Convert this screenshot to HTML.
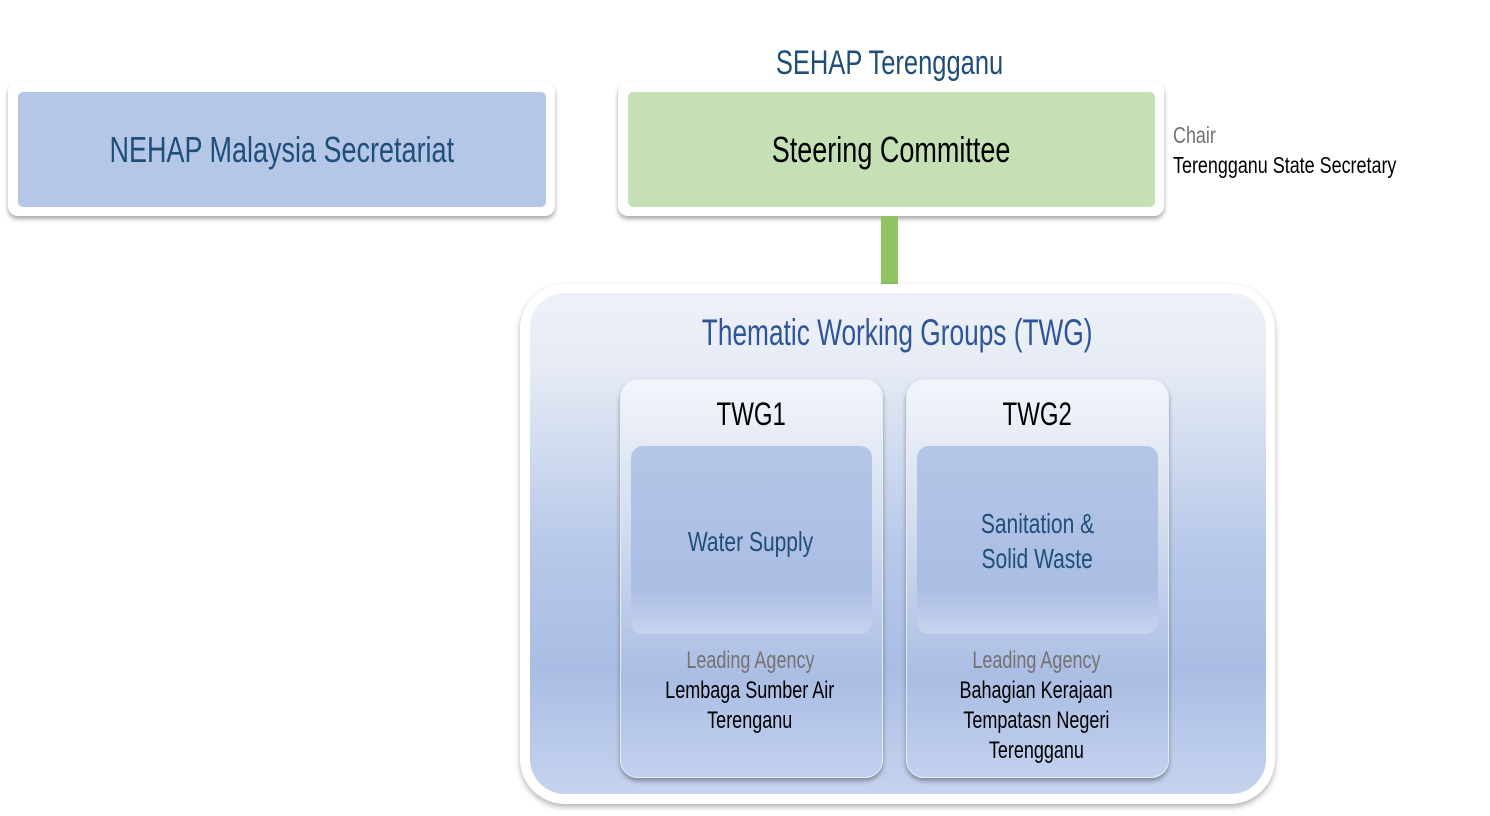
<!DOCTYPE html>
<html><head><meta charset="utf-8"><style>
body{margin:0;width:1490px;height:816px;background:#fff;position:relative;overflow:hidden;font-family:"Liberation Sans",sans-serif}
.a{position:absolute}
.t{position:absolute;width:1000px;text-align:center;white-space:nowrap;line-height:1}
.t span{display:inline-block;transform:scaleX(.75);transform-origin:center}
.l{position:absolute;white-space:nowrap;line-height:1}
.l span{display:inline-block;transform:scaleX(.78);transform-origin:left}
.outer{background:#fff;border-radius:10px;box-shadow:0 3px 5px rgba(0,0,0,.35)}
.card{border-radius:18px;background:linear-gradient(#f3f5fb 0%,#d4deef 35%,#aabde4 75%,#c3d1ee 100%);box-shadow:0 3px 5px rgba(0,0,0,.35);border:1px solid #e6ebf5;box-sizing:border-box}
.inner{border-radius:12px;background:linear-gradient(#b4c6e7 0%,#aabde3 75%,#c8d4ee 100%)}
</style></head><body>
<div class="a outer" style="left:8px;top:82px;width:547px;height:134px"></div>
<div class="a" style="left:18px;top:92px;width:528px;height:115px;background:#b4c7e7;border-radius:5px"></div>
<div class="t" style="left:-218px;top:132px;font-size:36px;color:#1f4e79"><span>NEHAP Malaysia Secretariat</span></div>

<div class="t" style="left:390px;top:46px;font-size:34px;color:#1f4e79"><span>SEHAP Terengganu</span></div>
<div class="a outer" style="left:618px;top:82px;width:546px;height:134px"></div>
<div class="a" style="left:628px;top:92px;width:527px;height:115px;background:#c5e0b4;border-radius:5px"></div>
<div class="t" style="left:391px;top:132px;font-size:36px;color:#000"><span>Steering Committee</span></div>
<div class="l" style="left:1173px;top:124px;font-size:23px;color:#767171"><span>Chair</span></div>
<div class="l" style="left:1173px;top:154px;font-size:23px;color:#000"><span>Terengganu State Secretary</span></div>

<div class="a" style="left:881px;top:216px;width:17px;height:70px;background:#8fc460"></div>

<div class="a" style="left:520px;top:284px;width:755px;height:520px;background:#fff;border-radius:45px;box-shadow:0 3px 6px rgba(0,0,0,.3)"></div>
<div class="a" style="left:530px;top:293px;width:736px;height:501px;border-radius:35px;background:linear-gradient(#eef1f8 0%,#e6ebf5 15%,#b8c9e9 50%,#a9bde4 75%,#c5d3ee 100%)"></div>
<div class="t" style="left:397px;top:314px;font-size:37px;color:#2f5597"><span style="transform:scaleX(.71)">Thematic Working Groups (TWG)</span></div>

<div class="a card" style="left:620px;top:379px;width:263px;height:399px"></div>
<div class="t" style="left:251px;top:398px;font-size:32px;color:#000"><span>TWG1</span></div>
<div class="a inner" style="left:631px;top:446px;width:241px;height:188px"></div>
<div class="t" style="left:251px;top:528px;font-size:28px;color:#1f4e79"><span>Water Supply</span></div>
<div class="t" style="left:250px;top:649px;font-size:24px;color:#767171"><span>Leading Agency</span></div>
<div class="t" style="left:250px;top:679px;font-size:24px;color:#000"><span>Lembaga Sumber Air</span></div>
<div class="t" style="left:250px;top:709px;font-size:24px;color:#000"><span>Terenganu</span></div>

<div class="a card" style="left:906px;top:379px;width:263px;height:399px"></div>
<div class="t" style="left:537px;top:398px;font-size:32px;color:#000"><span>TWG2</span></div>
<div class="a inner" style="left:917px;top:446px;width:241px;height:188px"></div>
<div class="t" style="left:537px;top:510px;font-size:28px;color:#1f4e79"><span>Sanitation &amp;</span></div>
<div class="t" style="left:537px;top:545px;font-size:28px;color:#1f4e79"><span>Solid Waste</span></div>
<div class="t" style="left:536px;top:649px;font-size:24px;color:#767171"><span>Leading Agency</span></div>
<div class="t" style="left:536px;top:679px;font-size:24px;color:#000"><span>Bahagian Kerajaan</span></div>
<div class="t" style="left:536px;top:709px;font-size:24px;color:#000"><span>Tempatasn Negeri</span></div>
<div class="t" style="left:536px;top:739px;font-size:24px;color:#000"><span>Terengganu</span></div>
</body></html>
